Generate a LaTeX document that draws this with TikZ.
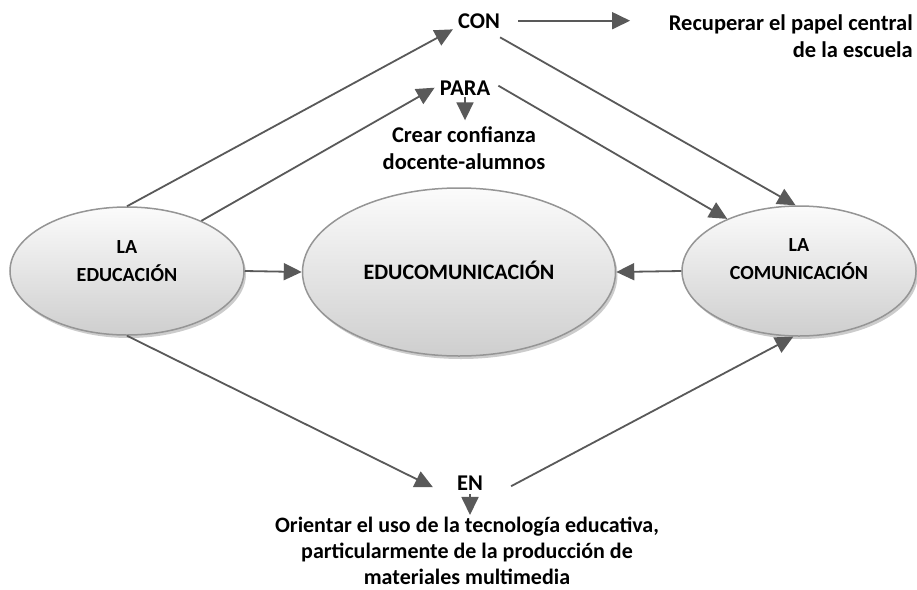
\documentclass[tikz,border=0pt]{standalone}
\usepackage{fontspec}
\setmainfont{Carlito}
\usetikzlibrary{arrows.meta,shadows,shapes.geometric,calc}
\definecolor{arr}{HTML}{595959}
\definecolor{ell}{HTML}{959595}
\begin{document}
\begin{tikzpicture}[x=1pt,y=-1pt,
  lbl/.style={font=\bfseries\fontsize{22.5}{27}\selectfont, inner sep=0pt, align=center},
  etxt/.style={font=\bfseries\fontsize{20}{28}\selectfont, inner sep=0pt, align=center},
  bubble/.style={ellipse, draw=ell, line width=1.5pt, top color=gray!3, bottom color=gray!38,
     drop shadow={shadow xshift=2pt, shadow yshift=-3pt, opacity=0.4}, inner sep=0pt},
  conn/.style={draw=arr, line width=1.8pt, -{Triangle[length=18pt,width=17pt]}},
]
\useasboundingbox (0,0) rectangle (917,589);
\fill[white] (0,0) rectangle (917,589);

% ellipses
\node[bubble, minimum width=234pt, minimum height=128pt] (edu) at (127,271) {};
\node[etxt] (edut) at (127,261) {LA\\EDUCACIÓN};
\node[bubble, minimum width=313pt, minimum height=168pt] (educom) at (459,272) {};
\node[etxt, font=\bfseries\fontsize{22}{28}\selectfont] (educomt) at (459,270) {EDUCOMUNICACIÓN};
\node[bubble, minimum width=234pt, minimum height=130pt] (com) at (799,271) {};
\node[etxt] (comt) at (799,259) {LA\\COMUNICACIÓN};

% labels
\node[lbl, anchor=base] (con) at (479,28) {CON};
\node[lbl, align=right, anchor=east] (rec) at (913,36) {Recuperar el papel central\\de la escuela};
\node[lbl, anchor=base] (para) at (465,95) {PARA};
\node[lbl] (crear) at (464,148) {Crear confianza\\docente-alumnos};
\node[lbl, anchor=base] (en) at (470,490) {EN};
\node[lbl, font=\bfseries\fontsize{22}{26}\selectfont] (ori) at (467,551) {Orientar el uso de la tecnología educativa,\\particularmente de la producción de\\materiales multimedia};

% connectors
\draw[conn] (edu.north) -- ($(con.south west)+(-5,1)$);
\draw[conn] (edu.34) -- ($(para.west)+(-5,0)$);
\draw[conn] (edu.east) -- (educom.west);
\draw[conn] (com.west) -- (educom.east);
\draw[conn] ($(con.east)+(18,0)$) -- ($(con.east)+(130,0)$);
\draw[conn] ($(con.south east)+(0,9)$) -- (com.93);
\draw[conn] ($(para.east)+(8,-2)$) -- (com.144);
\draw[conn, shorten <=2pt, shorten >=6pt] (para.south) -- (para.south |- crear.north);
\draw[conn] (edu.south) -- ($(en.south west)+(-24,-3)$);
\draw[conn] ($(en.east)+(28,3.5)$) -- (com.265);
\draw[conn, shorten <=4pt, shorten >=2pt] (en.south) -- (en.south |- ori.north);
\end{tikzpicture}
\end{document}
